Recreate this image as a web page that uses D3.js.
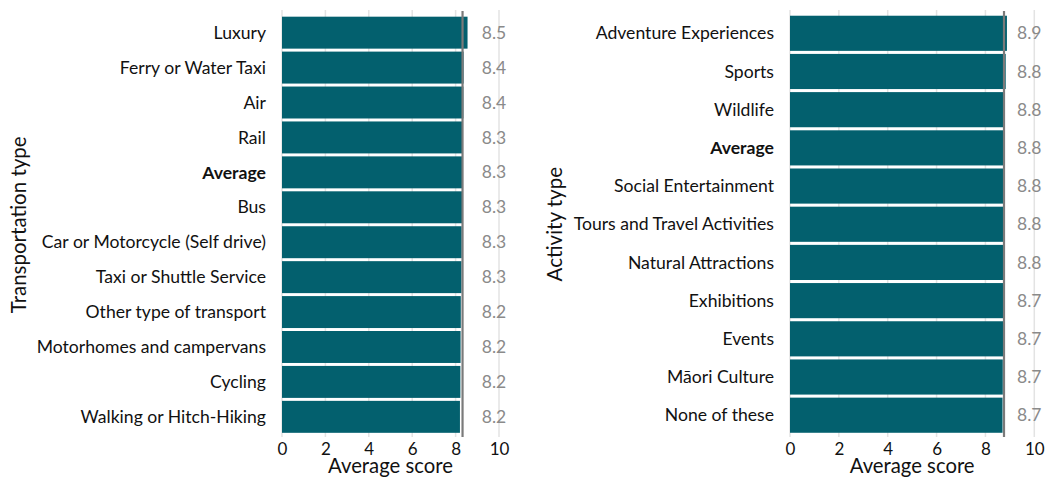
<!DOCTYPE html>
<html><head><meta charset="utf-8">
<script src="https://cdn.jsdelivr.net/npm/d3@7"></script>
<style>
body{margin:0;background:#fff;}
text{font-family:Lato,"Open Sans",sans-serif;}
</style></head>
<body><svg id="chart" width="1049" height="479"></svg>
<script>
const transportCategories = ["Luxury","Ferry or Water Taxi","Air","Rail","Average","Bus","Car or Motorcycle (Self drive)","Taxi or Shuttle Service","Other type of transport","Motorhomes and campervans","Cycling","Walking or Hitch-Hiking"];
const transportValues = [8.55,8.37,8.36,8.33,8.32,8.3,8.28,8.27,8.24,8.23,8.22,8.2];
const transportLabels = ["8.5","8.4","8.4","8.3","8.3","8.3","8.3","8.3","8.2","8.2","8.2","8.2"];
const activityCategories = ["Adventure Experiences","Sports","Wildlife","Average","Social Entertainment","Tours and Travel Activities","Natural Attractions","Exhibitions","Events","Māori Culture","None of these"];
const activityValues = [8.88,8.83,8.77,8.76,8.76,8.75,8.75,8.73,8.72,8.71,8.7];
const activityLabels = ["8.9","8.8","8.8","8.8","8.8","8.8","8.8","8.7","8.7","8.7","8.7"];
const xTicks = [0,2,4,6,8,10];
const averageName = "Average";

const svg = d3.select("#chart");
const barColor = "#03606e";

function panel(cfg){
  const g = svg.append("g");
  const x = d3.scaleLinear().domain([0,10]).range([cfg.x0, cfg.x1]);
  const y = d3.scaleBand().domain(cfg.cats).range([cfg.y0, cfg.y1]).paddingInner(cfg.pad).paddingOuter(cfg.pad/2);
  g.selectAll("line.grid").data(xTicks).enter().append("line")
    .attr("x1", d=>x(d)).attr("x2", d=>x(d)).attr("y1", 10).attr("y2", 437)
    .attr("stroke", "#e3e3e3").attr("stroke-width", 1.5);
  g.selectAll("rect.bar").data(cfg.cats).enter().append("rect")
    .attr("x", x(0)).attr("y", d=>y(d))
    .attr("width", (d,i)=>x(cfg.vals[i])-x(0)).attr("height", y.bandwidth())
    .attr("fill", barColor);
  const avg = cfg.vals[cfg.cats.indexOf(averageName)];
  g.append("line").attr("x1", x(avg)).attr("x2", x(avg)).attr("y1", 11).attr("y2", 437)
    .attr("stroke", "#7a7a7a").attr("stroke-width", 2.2);
  g.selectAll("text.cat").data(cfg.cats).enter().append("text")
    .attr("x", x(0) - 16).attr("y", d=>y(d)+y.bandwidth()/2).attr("dy","0.35em")
    .attr("text-anchor","end").attr("font-size", 17.6).attr("fill","#111")
    .attr("font-weight", d=> d===averageName ? "bold" : "normal")
    .text(d=>d);
  g.selectAll("text.val").data(cfg.cats).enter().append("text")
    .attr("x", x(10) - 5).attr("y", d=>y(d)+y.bandwidth()/2).attr("dy","0.35em")
    .attr("text-anchor","middle").attr("font-size", 17.5).attr("fill","#8a8a8a")
    .text((d,i)=>cfg.labels[i]);
  const ax = g.append("g").attr("transform", `translate(0,439)`)
    .call(d3.axisBottom(x).tickValues(xTicks).tickSize(0).tickPadding(4).tickFormat(d3.format("d")));
  ax.select(".domain").remove();
  ax.selectAll("text").attr("font-size", 17).attr("fill","#111").style("font-family","Lato,sans-serif");
  g.append("text").attr("x", (cfg.x0+cfg.x1)/2).attr("y", 473).attr("text-anchor","middle")
    .attr("font-size", 20.3).attr("fill","#111").text("Average score");
  g.append("text").attr("transform", `translate(${cfg.titleX},${(cfg.y0+cfg.y1)/2}) rotate(-90)`)
    .attr("text-anchor","middle").attr("font-size", 20.5).attr("fill","#111").text(cfg.title);
}

panel({cats: transportCategories, vals: transportValues, labels: transportLabels,
  x0: 282, x1: 499, y0: 15.2, y1: 434.3, pad: 0.085, title: "Transportation type", titleX: 26});
panel({cats: activityCategories, vals: activityValues, labels: activityLabels,
  x0: 790, x1: 1034.3, y0: 14.2, y1: 434.3, pad: 0.08, title: "Activity type", titleX: 562});
</script></body></html>
